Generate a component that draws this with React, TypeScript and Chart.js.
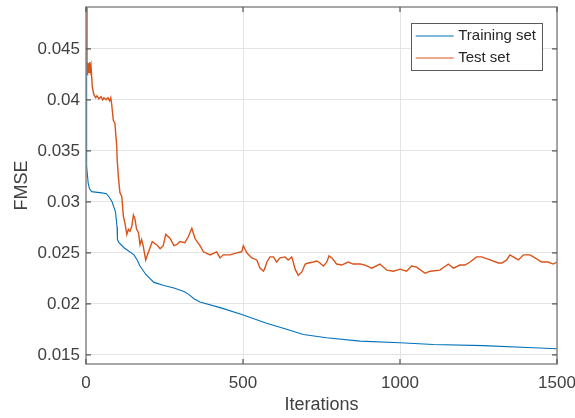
import React, { useEffect, useRef } from "react";
import { Chart, registerables } from "chart.js";

Chart.register(...registerables);

// Training-set error curve (iteration, FMSE)
const trainIter = [
  0, 2, 4, 7, 11, 18, 30, 50, 65, 73, 83, 94, 99, 100, 105, 121, 153, 163, 172,
  190, 216, 248, 280, 312, 328, 344, 363, 430, 501, 575, 639, 692, 766, 873,
  1000, 1106, 1266, 1425, 1500,
];
const trainFmse = [
  0.052, 0.0335, 0.0328, 0.0318, 0.0313, 0.031, 0.03095, 0.03088, 0.0308,
  0.0305, 0.03, 0.029, 0.0275, 0.0263, 0.026, 0.0255, 0.0248, 0.0243, 0.0237,
  0.0229, 0.0221, 0.0218, 0.02155, 0.0212, 0.0209, 0.0205, 0.02018, 0.0196,
  0.0189, 0.0181, 0.0175, 0.017, 0.01667, 0.01634, 0.01618, 0.01601, 0.0159,
  0.0157, 0.0156,
];

// Test-set error curve (iteration, FMSE)
const testIter = [
  0, 3, 5, 7, 10, 12, 14, 16, 20, 25, 31, 35, 41, 48, 53, 57, 64, 70, 75, 79,
  82, 87, 92, 98, 99, 103, 108, 114, 119, 124, 130, 135, 140, 146, 151, 156,
  161, 167, 172, 177, 182, 190, 198, 204, 211, 225, 236, 246, 254, 268, 280,
  289, 299, 315, 326, 337, 347, 363, 374, 395, 416, 427, 437, 459, 480, 496,
  501, 512, 528, 544, 554, 565, 570, 576, 586, 597, 607, 618, 634, 644, 655,
  660, 666, 676, 687, 698, 708, 724, 735, 745, 756, 767, 774, 783, 798, 814,
  835, 851, 873, 889, 910, 936, 958, 979, 1000, 1021, 1037, 1053, 1080, 1096,
  1127, 1154, 1170, 1191, 1207, 1223, 1244, 1260, 1287, 1313, 1324, 1340,
  1350, 1366, 1377, 1393, 1414, 1430, 1451, 1472, 1488, 1500,
];
const testFmse = [
  0.052, 0.0439, 0.0424, 0.0436, 0.0427, 0.0437, 0.0429, 0.0433, 0.0413,
  0.0405, 0.0402, 0.0404, 0.0401, 0.0403, 0.04, 0.0402, 0.04, 0.0402, 0.0399,
  0.0402, 0.0395, 0.038, 0.0377, 0.0354, 0.0343, 0.0325, 0.0309, 0.0305,
  0.0286, 0.0279, 0.0268, 0.0273, 0.0271, 0.0276, 0.0287, 0.0283, 0.0273,
  0.027, 0.0258, 0.0263, 0.0257, 0.0243, 0.025, 0.0255, 0.0261, 0.0258,
  0.0254, 0.0257, 0.0268, 0.0264, 0.0257, 0.0258, 0.0261, 0.026, 0.0266,
  0.0274, 0.0264, 0.0257, 0.0251, 0.0248, 0.0251, 0.0245, 0.0248, 0.0248,
  0.025, 0.0251, 0.0257, 0.025, 0.0245, 0.0243, 0.0235, 0.0232, 0.0235,
  0.0241, 0.0246, 0.0246, 0.0241, 0.0245, 0.0246, 0.0243, 0.0246, 0.0241,
  0.0234, 0.0228, 0.0231, 0.0239, 0.024, 0.0241, 0.0242, 0.024, 0.0237,
  0.0241, 0.0247, 0.0245, 0.0239, 0.0238, 0.0241, 0.0239, 0.0239, 0.0238,
  0.0235, 0.0239, 0.0233, 0.0232, 0.0234, 0.0232, 0.0237, 0.0236, 0.023,
  0.0232, 0.0233, 0.0239, 0.0235, 0.0238, 0.0238, 0.0241, 0.0246, 0.0246,
  0.0243, 0.024, 0.024, 0.0243, 0.0248, 0.0245, 0.0243, 0.0248, 0.0248,
  0.0245, 0.0241, 0.0241, 0.0239, 0.0241,
];

const seriesNames = ["Training set", "Test set"];
const xTicks = [0, 500, 1000, 1500];
const yTicks = [0.015, 0.02, 0.025, 0.03, 0.035, 0.04, 0.045];
const yTickLabels = ["0.015", "0.02", "0.025", "0.03", "0.035", "0.04", "0.045"];
const xTitle = "Iterations";
const yTitle = "FMSE";

const FONT = "'Liberation Sans', Arial, Helvetica, sans-serif";
const BLUE = "#0072BD";
const RED = "#D95319";
const AXIS = "#8a8a8a";
const TEXT = "#404040";

// Box around the plot with inward tick marks on all four sides
const boxPlugin = {
  id: "matlabBox",
  afterDatasetsDraw(chart: any) {
    const { ctx, chartArea: a, scales } = chart;
    const t = 5;
    ctx.save();
    ctx.strokeStyle = AXIS;
    ctx.lineWidth = 1.5;
    ctx.strokeRect(a.left, a.top, a.right - a.left, a.bottom - a.top);
    ctx.lineWidth = 1.2;
    ctx.strokeStyle = "#555";
    ctx.beginPath();
    for (const v of xTicks) {
      const px = scales.x.getPixelForValue(v);
      ctx.moveTo(px, a.bottom);
      ctx.lineTo(px, a.bottom - t);
      ctx.moveTo(px, a.top);
      ctx.lineTo(px, a.top + t);
    }
    for (const v of yTicks) {
      const py = scales.y.getPixelForValue(v);
      ctx.moveTo(a.left, py);
      ctx.lineTo(a.left + t, py);
      ctx.moveTo(a.right, py);
      ctx.lineTo(a.right - t, py);
    }
    ctx.stroke();
    ctx.restore();
  },
};

// Legend box in the upper-right corner of the plot
const legendPlugin = {
  id: "cornerLegend",
  afterDraw(chart: any) {
    const { ctx, chartArea: a } = chart;
    const right = a.right - 15;
    const top = a.top + 16;
    const lineLen = 38;
    const padL = 5;
    const gap = 4.5;
    const padR = 6;
    const rowH = 22;
    ctx.save();
    ctx.font = `15px ${FONT}`;
    const textW = Math.max(
      ...chart.data.datasets.map((d: any) => ctx.measureText(d.label).width)
    );
    const w = padL + lineLen + gap + textW + padR;
    const h = 47;
    const left = right - w;
    ctx.fillStyle = "#ffffff";
    ctx.fillRect(left, top, w, h);
    ctx.strokeStyle = "#5a5a5a";
    ctx.lineWidth = 1;
    ctx.strokeRect(Math.round(left) + 0.5, Math.round(top) + 0.5, Math.round(w), Math.round(h));
    chart.data.datasets.forEach((d: any, i: number) => {
      const cy = top + 13 + i * rowH;
      ctx.strokeStyle = d.borderColor;
      ctx.lineWidth = 1;
      ctx.beginPath();
      ctx.moveTo(left + padL, cy);
      ctx.lineTo(left + padL + lineLen, cy);
      ctx.stroke();
      ctx.fillStyle = "#262626";
      ctx.textBaseline = "middle";
      ctx.textAlign = "left";
      ctx.fillText(d.label, left + padL + lineLen + gap, cy);
    });
    ctx.restore();
  },
};

export default function App() {
  const canvasRef = useRef<HTMLCanvasElement | null>(null);

  useEffect(() => {
    if (!canvasRef.current) return;
    const trainData = trainIter.map((x, i) => ({ x, y: trainFmse[i] }));
    const testData = testIter.map((x, i) => ({ x, y: testFmse[i] }));

    const chart = new Chart(canvasRef.current, {
      type: "line",
      data: {
        datasets: [
          {
            label: seriesNames[0],
            data: trainData,
            borderColor: BLUE,
            borderWidth: 1.1,
            pointRadius: 0,
            tension: 0,
            order: 1,
          },
          {
            label: seriesNames[1],
            data: testData,
            borderColor: RED,
            borderWidth: 1.4,
            pointRadius: 0,
            tension: 0,
            order: 0,
          },
        ],
      },
      options: {
        animation: false,
        responsive: false,
        layout: { padding: { top: 7, right: 18, left: 0, bottom: 0 } },
        plugins: {
          legend: { display: false },
          tooltip: { enabled: false },
        },
        scales: {
          x: {
            type: "linear",
            min: 0,
            max: 1500,
            afterBuildTicks: (s: any) => {
              s.ticks = xTicks.map((v) => ({ value: v }));
            },
            afterFit: (s: any) => {
              s.height = 54;
              s.paddingLeft = 0;
              s.paddingRight = 0;
            },
            grid: { color: "#e4e4e4", lineWidth: 1, drawTicks: false },
            border: { display: false },
            ticks: {
              autoSkip: false,
              maxRotation: 0,
              padding: 9,
              color: TEXT,
              font: { family: FONT, size: 17 },
              callback: (v: any) => String(v),
            },
            title: {
              display: true,
              text: xTitle,
              color: TEXT,
              font: { family: FONT, size: 18 },
              padding: { top: 0, bottom: 2 },
            },
          },
          y: {
            type: "linear",
            min: 0.0141,
            max: 0.0491,
            afterBuildTicks: (s: any) => {
              s.ticks = yTicks.map((v) => ({ value: v }));
            },
            afterFit: (s: any) => {
              s.width = 86;
              s.paddingTop = 0;
              s.paddingBottom = 0;
            },
            grid: { color: "#e4e4e4", lineWidth: 1, drawTicks: false },
            border: { display: false },
            ticks: {
              autoSkip: false,
              padding: 6,
              color: TEXT,
              font: { family: FONT, size: 17 },
              callback: (v: any) => {
                const i = yTicks.findIndex((t) => Math.abs(t - v) < 1e-9);
                return i >= 0 ? yTickLabels[i] : "";
              },
            },
            title: {
              display: true,
              text: yTitle,
              color: TEXT,
              font: { family: FONT, size: 18 },
              padding: { top: 11, bottom: 0 },
            },
          },
        },
      },
      plugins: [boxPlugin, legendPlugin],
    });

    return () => chart.destroy();
  }, []);

  return (
    <div style={{ position: "fixed", left: 0, top: 0, width: 575, height: 418, background: "#fff" }}>
      <canvas ref={canvasRef} width={575} height={418} />
    </div>
  );
}
